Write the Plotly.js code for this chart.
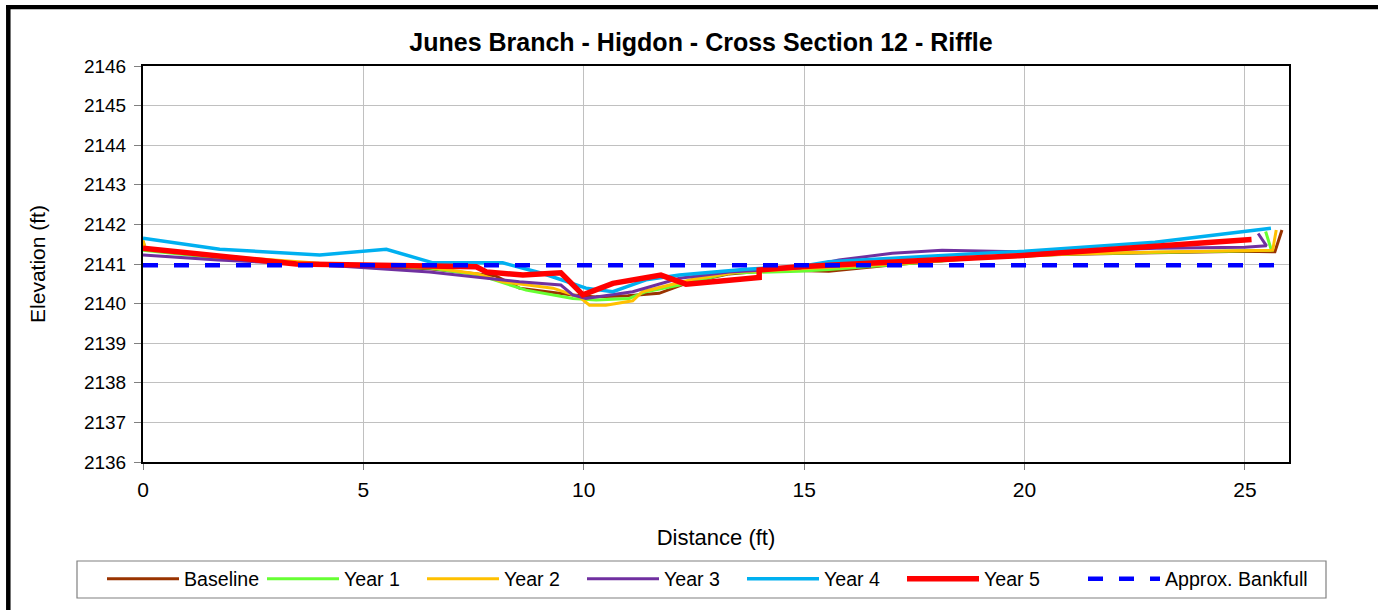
<!DOCTYPE html>
<html>
<head>
<meta charset="utf-8">
<script src="https://cdn.plot.ly/plotly-3.0.1.min.js"></script>
<style>html,body{margin:0;padding:0;background:#fff;}#chart{width:1378px;height:610px;}</style>
</head>
<body>
<div id="chart"></div>
<script>
// ---- data ----
const chartTitle = "Junes Branch - Higdon - Cross Section 12 - Riffle";
const xTitle = "Distance (ft)";
const yTitle = "Elevation (ft)";

const seriesNames = ["Baseline", "Year 1", "Year 2", "Year 3", "Year 4", "Year 5", "Approx. Bankfull"];

const baselineX = [0, 0.05, 1.7, 4, 6.5, 8.0, 8.54, 9.75, 10.28, 11.0, 11.71, 12.32, 13.3, 14.4, 15.56, 16.92, 18.5, 20, 22.6, 25.0, 25.68, 25.84];
const baselineY = [2141.56, 2141.4, 2141.15, 2141.0, 2140.88, 2140.7, 2140.39, 2140.22, 2140.17, 2140.2, 2140.26, 2140.51, 2140.75, 2140.85, 2140.82, 2140.97, 2141.12, 2141.22, 2141.28, 2141.32, 2141.31, 2141.86];

const year1X = [0, 1.7, 4, 6.5, 7.63, 8.69, 9.75, 10.28, 11.03, 11.41, 12.17, 13.3, 14.88, 15.56, 17, 19, 21, 23, 25.0, 25.6, 25.47];
const year1Y = [2141.35, 2141.15, 2141.0, 2140.9, 2140.72, 2140.34, 2140.13, 2140.09, 2140.13, 2140.3, 2140.47, 2140.77, 2140.82, 2140.86, 2140.98, 2141.15, 2141.25, 2141.3, 2141.35, 2141.35, 2141.82];

const year2X = [0, 0.05, 1.7, 4, 6.5, 7.6, 8.16, 9.3, 9.9, 10.13, 10.5, 11.11, 11.33, 12.5, 13.5, 15, 17, 19, 21, 23, 25.0, 25.63, 25.71];
const year2Y = [2141.6, 2141.4, 2141.2, 2141.02, 2140.92, 2140.75, 2140.55, 2140.39, 2140.17, 2139.96, 2139.96, 2140.07, 2140.3, 2140.62, 2140.8, 2140.88, 2141.0, 2141.15, 2141.25, 2141.3, 2141.35, 2141.35, 2141.86];

const year3X = [0, 1.7, 4, 6.5, 8.54, 9.48, 9.75, 10.05, 11.11, 12.17, 13.3, 14.9, 15.79, 17.0, 18.13, 19.87, 21.5, 23, 25.0, 25.49, 25.3];
const year3Y = [2141.23, 2141.1, 2140.98, 2140.8, 2140.55, 2140.47, 2140.22, 2140.13, 2140.3, 2140.64, 2140.8, 2140.9, 2141.1, 2141.27, 2141.35, 2141.31, 2141.35, 2141.4, 2141.42, 2141.46, 2141.77];

const year4X = [0, 1.74, 4.01, 5.52, 6.58, 8.16, 9.07, 9.48, 10.05, 10.66, 11.41, 12.17, 12.91, 13.68, 14.88, 15.56, 19.41, 20, 22.96, 25.59];
const year4Y = [2141.65, 2141.37, 2141.23, 2141.37, 2141.03, 2141.03, 2140.76, 2140.6, 2140.39, 2140.3, 2140.6, 2140.72, 2140.8, 2140.87, 2140.93, 2141.06, 2141.29, 2141.32, 2141.55, 2141.9];

const year5X = [0, 3.48, 5.37, 7.56, 7.79, 8.62, 9.48, 9.98, 10.66, 11.75, 12.32, 13.98, 13.98, 14.88, 19.87, 25.15];
const year5Y = [2141.4, 2141.0, 2140.97, 2140.93, 2140.8, 2140.72, 2140.78, 2140.22, 2140.51, 2140.72, 2140.49, 2140.66, 2140.85, 2140.93, 2141.21, 2141.62];

const bankfullX = [0, 26];
const bankfullY = [2140.97, 2140.97];

const xTickVals = [0, 5, 10, 15, 20, 25];
const yTickVals = [2136, 2137, 2138, 2139, 2140, 2141, 2142, 2143, 2144, 2145, 2146];

// ---- styles ----
const colors = ["#993300", "#66FF33", "#FFC000", "#7030A0", "#00B0F0", "#FF0000", "#0000FF"];
const widths = [3, 3, 3, 3, 3.5, 5.5, 4.5];

const xs = [baselineX, year1X, year2X, year3X, year4X, year5X, bankfullX];
const ys = [baselineY, year1Y, year2Y, year3Y, year4Y, year5Y, bankfullY];

const traces = seriesNames.map((name, i) => ({
  type: "scatter",
  mode: "lines",
  name: name,
  x: xs[i],
  y: ys[i],
  legend: i === 6 ? "legend2" : "legend",
  line: {color: colors[i], width: widths[i], dash: i === 6 ? "15px,16px" : "solid"},
  hoverinfo: "x+y+name"
}));

const W = 1378, H = 610;
const L = 143, R = 1289, T = 66, B = 462;
const pw = R - L, ph = B - T;
const px = v => (v - L) / pw;
const py = v => (B - v) / ph;

const legendCommon = {
  orientation: "h",
  xanchor: "left",
  y: py(579), yanchor: "middle",
  borderwidth: 0,
  bgcolor: "rgba(0,0,0,0)",
  font: {size: 19.6},
  itemwidth: 72,
  traceorder: "normal"
};

const layout = {
  width: W, height: H,
  margin: {l: L, r: W - R, t: T, b: H - B, pad: 0, autoexpand: false},
  paper_bgcolor: "#ffffff",
  plot_bgcolor: "#ffffff",
  font: {family: "Arial, 'Liberation Sans', sans-serif", color: "#000"},
  title: {
    text: "<b>" + chartTitle + "</b>",
    font: {size: 25, color: "#000"},
    x: 701 / W, xanchor: "center",
    y: 1 - 42 / H, yanchor: "middle"
  },
  xaxis: {
    range: [0, 26],
    tickvals: xTickVals,
    ticktext: xTickVals.map(String),
    tickfont: {size: 21},
    ticks: "outside", ticklen: 6, tickcolor: "#808080",
    ticklabelstandoff: 2,
    showgrid: true, gridcolor: "#c0c0c0", gridwidth: 1,
    showline: true, linecolor: "#000", linewidth: 2, mirror: true,
    zeroline: false, automargin: false,
    title: {text: xTitle, font: {size: 22}, standoff: 29}
  },
  yaxis: {
    range: [2136, 2146],
    tickvals: yTickVals,
    ticktext: yTickVals.map(String),
    tickfont: {size: 19},
    ticks: "outside", ticklen: 7, tickcolor: "#808080",
    ticklabelstandoff: 4,
    showgrid: true, gridcolor: "#c0c0c0", gridwidth: 1,
    showline: true, linecolor: "#000", linewidth: 2, mirror: true,
    zeroline: false, automargin: false,
    title: {text: yTitle, font: {size: 21}, standoff: 33}
  },
  legend: Object.assign({}, legendCommon, {x: px(102), entrywidth: 73, entrywidthmode: "pixels"}),
  legend2: Object.assign({}, legendCommon, {x: px(1083)}),
  shapes: [
    // legend frame
    {type: "rect", xref: "paper", yref: "paper",
     x0: px(77), x1: px(1326), y0: py(598), y1: py(561),
     line: {color: "#808080", width: 1.2}, fillcolor: "rgba(0,0,0,0)", layer: "below"},
    // outer chart border (top and left edges visible)
    {type: "line", xref: "paper", yref: "paper",
     x0: px(8.3), x1: px(8.3), y0: py(700), y1: py(5),
     line: {color: "#000", width: 4.5}, layer: "above"},
    {type: "line", xref: "paper", yref: "paper",
     x0: px(6), x1: px(1450), y0: py(7.2), y1: py(7.2),
     line: {color: "#000", width: 4.3}, layer: "above"}
  ],
  showlegend: true
};

Plotly.newPlot("chart", traces, layout, {displayModeBar: false, staticPlot: true});
</script>
</body>
</html>
